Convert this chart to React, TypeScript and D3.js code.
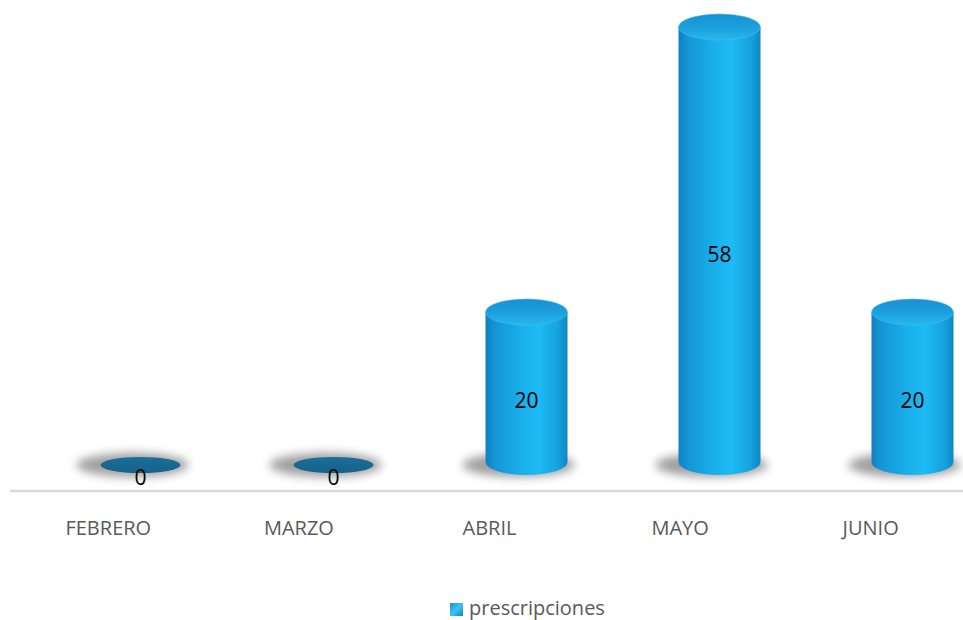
import React from "react";
import * as d3 from "d3";

const categories = ["FEBRERO", "MARZO", "ABRIL", "MAYO", "JUNIO"];
const values = [0, 0, 20, 58, 20];
const seriesName = "prescripciones";

const W = 963;
const H = 620;

export default function App() {
  // bar scale (3D floor offset: bars sit right of the labels)
  const x = d3.scaleBand<string>().domain(categories).range([44, 1009]).padding(0);
  const xLabel = d3.scaleBand<string>().domain(categories).range([13, 966]).padding(0);
  const y = d3.scaleLinear().domain([0, 58]).range([462, 27]);
  const yLab = d3.scaleLinear().domain([0, 58]).range([485, 262]);
  const rx = 41;
  const ry = 13;

  return (
    <svg
      width={W}
      height={H}
      style={{ position: "absolute", left: 0, top: 0, background: "#fff" }}
      fontFamily="'Open Sans', sans-serif"
    >
      <defs>
        <linearGradient id="body" x1="0" x2="1" y1="0" y2="0">
          <stop offset="0" stopColor="#0f80c0" />
          <stop offset="0.12" stopColor="#1596d6" />
          <stop offset="0.45" stopColor="#19b0eb" />
          <stop offset="0.65" stopColor="#1dbbf4" />
          <stop offset="0.88" stopColor="#17a2de" />
          <stop offset="1" stopColor="#1086c6" />
        </linearGradient>
        <linearGradient id="top" x1="0" x2="0" y1="0" y2="1">
          <stop offset="0" stopColor="#1990d1" />
          <stop offset="0.5" stopColor="#1c9fdc" />
          <stop offset="1" stopColor="#27b6ee" />
        </linearGradient>
        <linearGradient id="flat" x1="0" x2="0" y1="0" y2="1">
          <stop offset="0" stopColor="#1b6f98" />
          <stop offset="1" stopColor="#14628a" />
        </linearGradient>
        <linearGradient id="leg" x1="0" x2="1" y1="0" y2="1">
          <stop offset="0" stopColor="#1a8fd0" />
          <stop offset="0.5" stopColor="#3cc4f5" />
          <stop offset="1" stopColor="#1283c4" />
        </linearGradient>
        <filter id="blur" x="-50%" y="-100%" width="200%" height="300%">
          <feGaussianBlur stdDeviation="5" />
        </filter>
      </defs>

      {/* axis line */}
      <line x1={10} x2={W} y1={491} y2={491} stroke="#d9d9d9" strokeWidth={2.5} />

      {/* shadows */}
      {categories.map((c, i) => {
        const cx = (x(c) as number) + x.bandwidth() / 2;
        return (
          <ellipse
            key={"s" + i}
            cx={cx - 8}
            cy={465}
            rx={56}
            ry={12}
            fill="#777"
            opacity={0.7}
            filter="url(#blur)"
          />
        );
      })}

      {/* bars */}
      {categories.map((c, i) => {
        const cx = (x(c) as number) + x.bandwidth() / 2;
        const v = values[i];
        if (v === 0) {
          return (
            <ellipse key={"b" + i} cx={cx} cy={465} rx={40} ry={8} fill="url(#flat)" />
          );
        }
        const yb = y(0);
        const yt = y(v);
        const d = `M${cx - rx},${yt} L${cx - rx},${yb} A${rx},${ry} 0 0 0 ${cx + rx},${yb} L${cx + rx},${yt} Z`;
        return (
          <g key={"b" + i}>
            <path d={d} fill="url(#body)" />
            <ellipse cx={cx} cy={yt} rx={rx} ry={ry} fill="url(#top)" />
            <ellipse
              cx={cx}
              cy={yt}
              rx={rx}
              ry={ry}
              fill="none"
              stroke="#3fc3f5"
              strokeOpacity={0.5}
              strokeWidth={1}
            />
          </g>
        );
      })}

      {/* value labels */}
      {categories.map((c, i) => {
        const cx = (x(c) as number) + x.bandwidth() / 2;
        return (
          <text
            key={"v" + i}
            x={cx}
            y={yLab(values[i])}
            textAnchor="middle"
            fontSize={21}
            fill="#000"
          >
            {values[i]}
          </text>
        );
      })}

      {/* category labels */}
      {categories.map((c, i) => (
        <text
          key={"c" + i}
          x={(xLabel(c) as number) + xLabel.bandwidth() / 2}
          y={535}
          textAnchor="middle"
          fontSize={20}
          fill="#595959"
        >
          {c}
        </text>
      ))}

      {/* legend */}
      <rect x={450} y={603} width={13} height={13} fill="url(#leg)" />
      <text x={469} y={615} fontSize={20} fill="#595959">
        {seriesName}
      </text>
    </svg>
  );
}
